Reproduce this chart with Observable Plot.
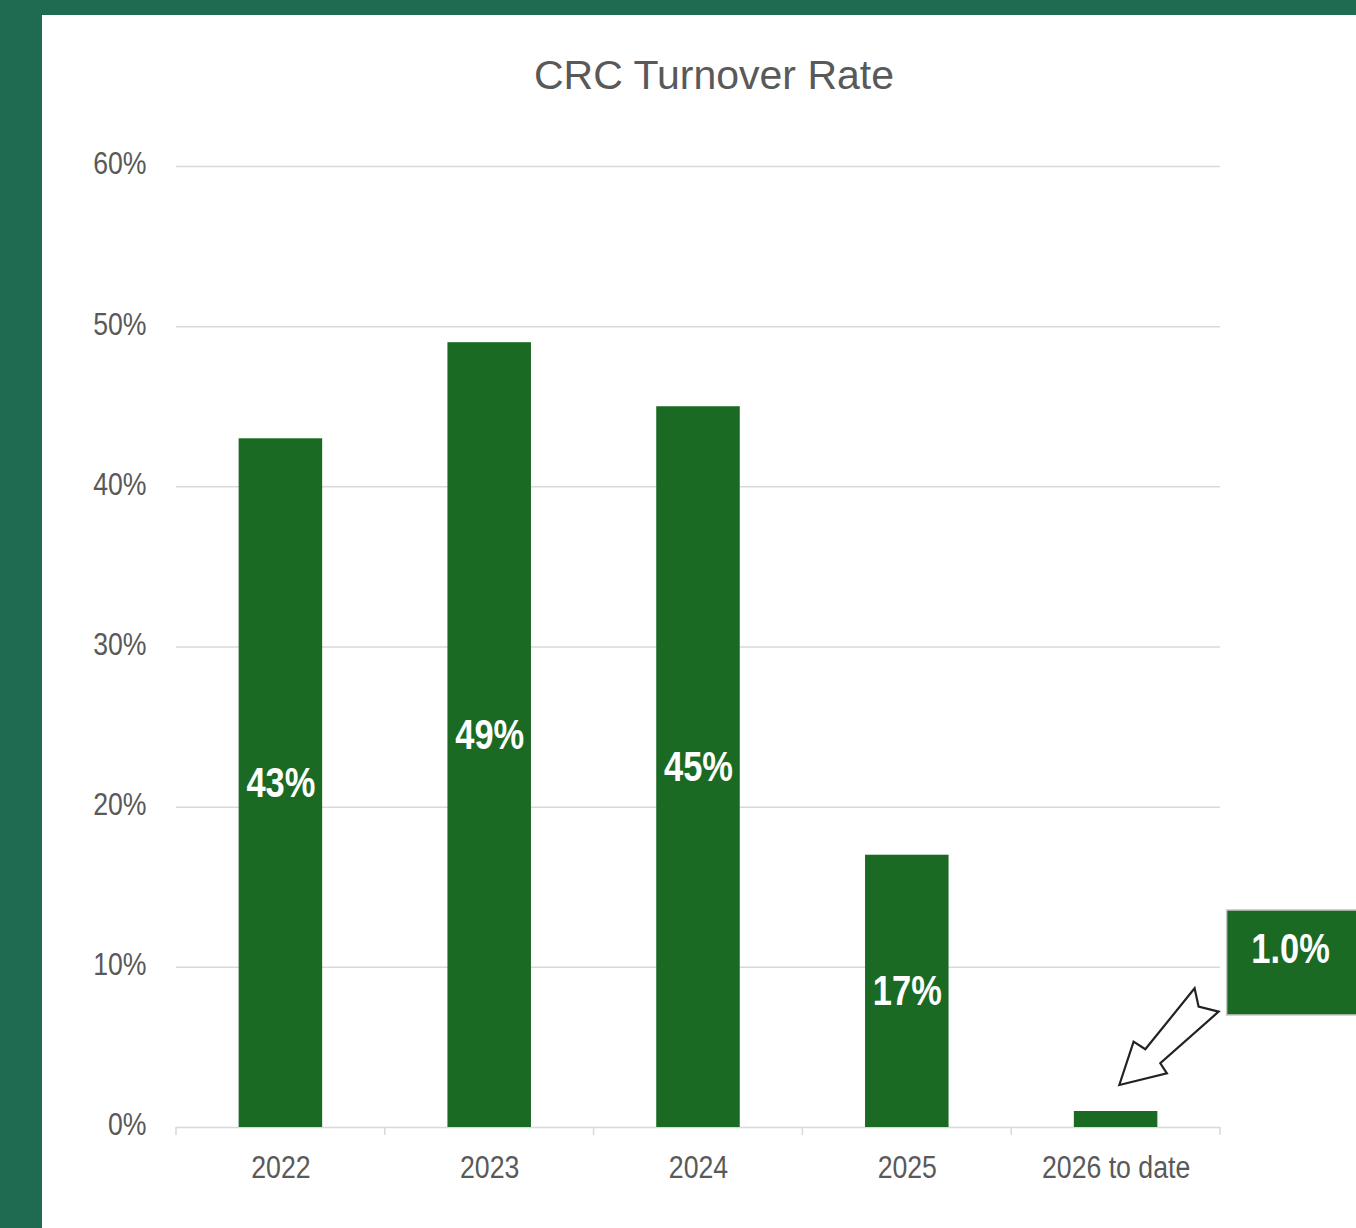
<!DOCTYPE html>
<html>
<head>
<meta charset="utf-8">
<script src="https://cdn.jsdelivr.net/npm/d3@7"></script>
<script src="https://cdn.jsdelivr.net/npm/@observablehq/plot@0.6"></script>
<style>
  html, body { margin: 0; padding: 0; width: 1356px; height: 1228px; overflow: hidden; background: #1f6b52; }
  #panel { position: absolute; left: 42px; top: 15px; width: 1314px; height: 1213px; background: #fff; overflow: hidden; }
  #title { position: absolute; left: 0; width: 1344px; top: 37px; text-align: center;
           font-family: "Liberation Sans", Arial, sans-serif; font-size: 41px; color: #595959; }
  #chart { position: absolute; left: 0; top: 100px; }
  svg { overflow: visible; }
</style>
</head>
<body>
<div id="panel">
  <div id="title">CRC Turnover Rate</div>
  <div id="chart"></div>
</div>
<script>
const categories = ["2022", "2023", "2024", "2025", "2026 to date"];
const values = [43, 49, 45, 17, 1.0];
const valueLabels = ["43%", "49%", "45%", "17%", "1.0%"];
const yTicks = [0, 10, 20, 30, 40, 50, 60];
const calloutIndex = 4;

const barColor = "#1b6a23";
const textColor = "#595959";
const gridColor = "#d9d9d9";
const font = '"Liberation Sans", Arial, sans-serif';

const data = categories.map((c, i) => ({cat: c, v: values[i], label: valueLabels[i]}));
const inside = data.filter((d, i) => i !== calloutIndex);

const chart = Plot.plot({
  width: 1314,
  height: 1113,
  marginLeft: 134,
  marginRight: 136,
  marginTop: 51,
  marginBottom: 101,
  style: {fontFamily: font, color: textColor, background: "transparent"},
  x: {domain: categories, paddingInner: 0.6, paddingOuter: 0.3, round: false, label: null},
  y: {domain: [0, 60], ticks: yTicks, label: null},
  marks: [
    Plot.ruleY(yTicks, {stroke: gridColor, strokeWidth: 1.5}),
    Plot.barY(data, {x: "cat", y: "v", fill: barColor}),
    Plot.text(inside, {x: "cat", y: d => d.v / 2, text: "label", fill: "white",
      fontWeight: "bold", fontSize: 42, fontFamily: font}),
    Plot.axisY({ticks: yTicks, tickSize: 0, tickPadding: 30, tickFormat: d => d + "%",
      fontSize: 31, fill: textColor, dy: -2}),
    Plot.axisX({tickSize: 0, tickPadding: 28, fontSize: 31, fill: textColor})
  ]
});
document.getElementById("chart").appendChild(chart);

const xs = chart.scale("x");
const ys = chart.scale("y");
const svg = d3.select(chart);
const y0 = ys.apply(0);
const gap = xs.step - xs.bandwidth;
const edges = categories.map(c => xs.apply(c) - gap / 2);
edges.push(xs.apply(categories[categories.length - 1]) + xs.bandwidth + gap / 2);
svg.append("g").selectAll("line").data(edges).join("line")
  .attr("x1", d => d).attr("x2", d => d)
  .attr("y1", y0).attr("y2", y0 + 8)
  .attr("stroke", gridColor).attr("stroke-width", 1.5);

// callout for the last bar
const cd = data[calloutIndex];
const px = xs.apply(cd.cat) + xs.bandwidth / 2;
const py = ys.apply(cd.v);
const g = svg.append("g").attr("transform", `translate(${px},${py})`);
g.append("rect").attr("x", 111).attr("y", -201).attr("width", 140).attr("height", 105)
  .attr("fill", barColor).attr("stroke", "#c8c8c8").attr("stroke-width", 1.5);
g.append("text").attr("class", "callout").attr("x", 175).attr("y", -163).attr("text-anchor", "middle")
  .attr("dy", "0.35em").attr("fill", "white").attr("font-weight", "bold")
  .attr("font-size", 42).attr("font-family", font).text(cd.label);
const arrow = [[3.7,-26],[18,-69.3],[29.7,-61.7],[79,-122.7],[83,-104.3],[103,-99.3],[44.7,-47.7],[51.3,-37.7]];
g.append("polygon").attr("points", arrow.map(p => p.join(",")).join(" "))
  .attr("fill", "white").attr("stroke", "#222").attr("stroke-width", 2.2).attr("stroke-linejoin", "miter");

// condense glyphs to mimic the narrow typeface of the original
function condense(sel, f) {
  sel.each(function() {
    const w = this.getComputedTextLength();
    this.setAttribute("textLength", w * f);
    this.setAttribute("lengthAdjust", "spacingAndGlyphs");
  });
}
condense(svg.selectAll('g[aria-label="text"] text'), 0.82);
condense(svg.selectAll("text.callout"), 0.82);
condense(svg.selectAll('g[aria-label="x-axis tick label"] text'), 0.86);
condense(svg.selectAll('g[aria-label="y-axis tick label"] text'), 0.86);
</script>
</body>
</html>
